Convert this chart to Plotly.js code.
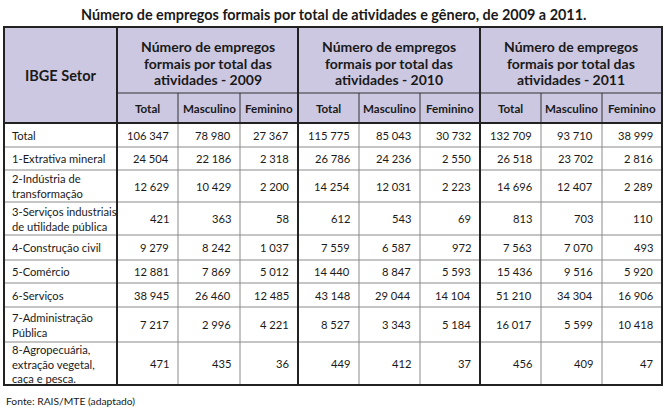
<!DOCTYPE html>
<html><head><meta charset="utf-8">
<script src="https://cdn.plot.ly/plotly-3.0.1.min.js"></script>
<style>html,body{margin:0;padding:0;background:#fff}</style>
</head><body><div id="chart" style="width:666px;height:407px"></div>
<script>
const title = "Número de empregos formais por total de atividades e gênero, de 2009 a 2011.";
const source = "Fonte: RAIS/MTE (adaptado)";
const setorHeader = "IBGE Setor";
const groupHeaders = [
  ["Número de empregos", "formais por total das", "atividades - 2009"],
  ["Número de empregos", "formais por total das", "atividades - 2010"],
  ["Número de empregos", "formais por total das", "atividades - 2011"]
];
const subHeaders = ["Total", "Masculino", "Feminino"];
const sectors = [
  ["Total"],
  ["1-Extrativa mineral"],
  ["2-Indústria de", "transformação"],
  ["3-Serviços industriais", "de utilidade pública"],
  ["4-Construção civil"],
  ["5-Comércio"],
  ["6-Serviços"],
  ["7-Administração", "Pública"],
  ["8-Agropecuária,", "extração vegetal,", "caça e pesca."]
];
const total2009 = [106347, 24504, 12629, 421, 9279, 12881, 38945, 7217, 471];
const masc2009  = [78980, 22186, 10429, 363, 8242, 7869, 26460, 2996, 435];
const fem2009   = [27367, 2318, 2200, 58, 1037, 5012, 12485, 4221, 36];
const total2010 = [115775, 26786, 14254, 612, 7559, 14440, 43148, 8527, 449];
const masc2010  = [85043, 24236, 12031, 543, 6587, 8847, 29044, 3343, 412];
const fem2010   = [30732, 2550, 2223, 69, 972, 5593, 14104, 5184, 37];
const total2011 = [132709, 26518, 14696, 813, 7563, 15436, 51210, 16017, 456];
const masc2011  = [93710, 23702, 12407, 703, 7070, 9516, 34304, 5599, 409];
const fem2011   = [38999, 2816, 2289, 110, 493, 5920, 16906, 10418, 47];

const columns = [total2009, masc2009, fem2009, total2010, masc2010, fem2010, total2011, masc2011, fem2011];

// layout geometry (pixels)
const xE = [4, 117, 178, 240, 298, 359, 420, 480, 541, 602, 662];
const yE = [27, 93, 123, 147, 170, 202, 235, 260, 283, 307, 342, 385];
const FONT = "Lato, 'Open Sans', sans-serif";
const HEADER_FILL = "#ccc8e2";

function fmt(n) { return String(n).replace(/\B(?=(\d{3})+(?!\d))/g, " "); }

const shapes = [];
const ann = [];
function line(x0, y0, x1, y1, color, w) {
  shapes.push({type: "line", xref: "x", yref: "y", x0, y0, x1, y1, line: {color, width: w}});
}
function text(x, y, t, size, opts) {
  ann.push(Object.assign({xref: "x", yref: "y", x, y, text: t, showarrow: false,
    xanchor: "center", yanchor: "middle", font: {family: FONT, size, color: "#1a1a1a"}}, opts || {}));
}

// header fill
shapes.push({type: "rect", xref: "x", yref: "y", x0: xE[0], x1: xE[10], y0: yE[0], y1: yE[2],
  fillcolor: HEADER_FILL, line: {width: 0}, layer: "below"});

// body horizontal lines (grey)
for (let r = 3; r < yE.length - 1; r++) line(xE[0], yE[r], xE[10], yE[r], "#8a8a8a", 1);
// body thin verticals
[2, 3, 5, 6, 8, 9].forEach(c => line(xE[c], yE[2], xE[c], yE[11], "#8a8a8a", 1));
// header thin lines
line(xE[1], yE[1], xE[10], yE[1], "#333", 1);
[2, 3, 5, 6, 8, 9].forEach(c => line(xE[c], yE[1], xE[c], yE[2], "#333", 1));
// thick lines
line(xE[0], yE[2], xE[10], yE[2], "#222", 2);
[1, 4, 7].forEach(c => line(xE[c], yE[0], xE[c], yE[11], "#222", 2));
shapes.push({type: "rect", xref: "x", yref: "y", x0: xE[0], x1: xE[10], y0: yE[0], y1: yE[11],
  line: {color: "#222", width: 2}, fillcolor: "rgba(0,0,0,0)"});

// title & source
text(333, 14, "<b>" + title + "</b>", 14.4);
text(4, 401, source, 10.3, {xanchor: "left"});

// header texts
text((xE[0] + xE[1]) / 2, (yE[0] + yE[2]) / 2, "<b>" + setorHeader + "</b>", 14.5);
groupHeaders.forEach((g, i) => {
  const cx = (xE[1 + 3 * i] + xE[4 + 3 * i]) / 2;
  const cy = (yE[0] + yE[1]) / 2 + 3;
  g.forEach((l, k) => text(cx, cy + (k - 1) * 16.5, "<b>" + l + "</b>", 14));
});
for (let c = 0; c < 9; c++) {
  text((xE[c + 1] + xE[c + 2]) / 2, (yE[1] + yE[2]) / 2, "<b>" + subHeaders[c % 3] + "</b>", 11.6);
}

// body
sectors.forEach((lines, r) => {
  const cy = (yE[r + 2] + yE[r + 3]) / 2;
  text(10, cy, lines.join("<br>"), 11.2, {xanchor: "left", align: "left"});
  columns.forEach((col, c) => text(xE[c + 2] - 7, cy, fmt(col[r]), 11.2, {xanchor: "right"}));
});

const layout = {
  width: 666, height: 407,
  margin: {l: 0, r: 0, t: 0, b: 0},
  paper_bgcolor: "#fff", plot_bgcolor: "#fff",
  xaxis: {range: [0, 666], visible: false, fixedrange: true},
  yaxis: {range: [407, 0], visible: false, fixedrange: true},
  showlegend: false,
  shapes, annotations: ann
};
Plotly.newPlot("chart", [{x: [], y: [], type: "scatter", mode: "markers"}], layout, {staticPlot: true});
</script></body></html>
